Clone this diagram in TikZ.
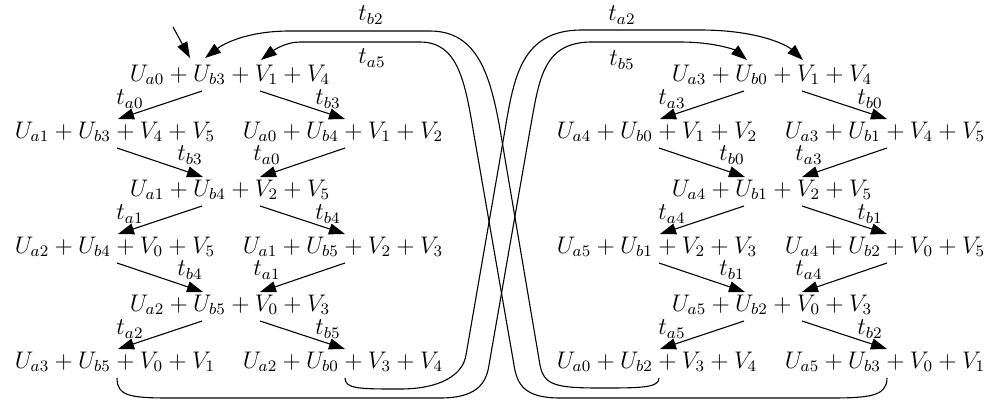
\documentclass[tikz,border=0pt]{standalone}
\usetikzlibrary{arrows.meta}
\begin{document}
\begin{tikzpicture}[x=0.5pt,y=-0.5pt,
  font=\fontsize{12}{14}\selectfont,
  st/.style={anchor=base, inner sep=0pt},
  lab/.style={inner sep=0pt},
  edge/.style={line width=0.55pt, -{Triangle[length=8pt,width=5.5pt]}},
]
\useasboundingbox (0,0) rectangle (998,403);
% ---------- left half ----------
\node[st] (l1)  at (230,81)  {$U_{a0}+U_{b3}+V_1+V_4$};
\node[st] (l2a) at (115,138) {$U_{a1}+U_{b3}+V_4+V_5$};
\node[st] (l2b) at (343,138) {$U_{a0}+U_{b4}+V_1+V_2$};
\node[st] (l3)  at (230,196) {$U_{a1}+U_{b4}+V_2+V_5$};
\node[st] (l4a) at (115,253) {$U_{a2}+U_{b4}+V_0+V_5$};
\node[st] (l4b) at (343,253) {$U_{a1}+U_{b5}+V_2+V_3$};
\node[st] (l5)  at (230,311) {$U_{a2}+U_{b5}+V_0+V_3$};
\node[st] (l6a) at (115,368) {$U_{a3}+U_{b5}+V_0+V_1$};
\node[st] (l6b) at (343,368) {$U_{a2}+U_{b0}+V_3+V_4$};
% ---------- right half ----------
\node[st] (r1)  at (772,81)  {$U_{a3}+U_{b0}+V_1+V_4$};
\node[st] (r2a) at (657,138) {$U_{a4}+U_{b0}+V_1+V_2$};
\node[st] (r2b) at (885,138) {$U_{a3}+U_{b1}+V_4+V_5$};
\node[st] (r3)  at (772,196) {$U_{a4}+U_{b1}+V_2+V_5$};
\node[st] (r4a) at (657,253) {$U_{a5}+U_{b1}+V_2+V_3$};
\node[st] (r4b) at (885,253) {$U_{a4}+U_{b2}+V_0+V_5$};
\node[st] (r5)  at (772,311) {$U_{a5}+U_{b2}+V_0+V_3$};
\node[st] (r6a) at (657,368) {$U_{a0}+U_{b2}+V_3+V_4$};
\node[st] (r6b) at (885,368) {$U_{a5}+U_{b3}+V_0+V_1$};
% ---------- tree edges ----------
\foreach \h in {l,r}{
  \draw[edge] ([shift={(-28,10)}]\h1.base) -- ([shift={(3,-19)}]\h2a.base);
  \draw[edge] ([shift={(30,10)}]\h1.base) -- ([shift={(2,-19)}]\h2b.base);
  \draw[edge] ([shift={(2,10)}]\h2a.base) -- ([shift={(-27,-19)}]\h3.base);
  \draw[edge] ([shift={(2,10)}]\h2b.base) -- ([shift={(30,-19)}]\h3.base);
  \draw[edge] ([shift={(-28,10)}]\h3.base) -- ([shift={(3,-19)}]\h4a.base);
  \draw[edge] ([shift={(30,10)}]\h3.base) -- ([shift={(2,-19)}]\h4b.base);
  \draw[edge] ([shift={(2,10)}]\h4a.base) -- ([shift={(-27,-19)}]\h5.base);
  \draw[edge] ([shift={(2,10)}]\h4b.base) -- ([shift={(30,-19)}]\h5.base);
  \draw[edge] ([shift={(-28,10)}]\h5.base) -- ([shift={(3,-19)}]\h6a.base);
  \draw[edge] ([shift={(30,10)}]\h5.base) -- ([shift={(2,-19)}]\h6b.base);
}
% ---------- tree edge labels ----------
\node[lab] (ll1)  at (130,99)  {$t_{a0}$};
\node[lab] (ll2)  at (328,99)  {$t_{b3}$};
\node[lab] (ll3)  at (190,155) {$t_{b3}$};
\node[lab] (ll4)  at (267,155) {$t_{a0}$};
\node[lab] (ll5)  at (130,214) {$t_{a1}$};
\node[lab] (ll6)  at (328,214) {$t_{b4}$};
\node[lab] (ll7)  at (190,270) {$t_{b4}$};
\node[lab] (ll8)  at (267,270) {$t_{a1}$};
\node[lab] (ll9)  at (130,329) {$t_{a2}$};
\node[lab] (ll10) at (328,329) {$t_{b5}$};
\node[lab] (rl1)  at (672,99)  {$t_{a3}$};
\node[lab] (rl2)  at (870,99)  {$t_{b0}$};
\node[lab] (rl3)  at (732,155) {$t_{b0}$};
\node[lab] (rl4)  at (809,155) {$t_{a3}$};
\node[lab] (rl5)  at (672,214) {$t_{a4}$};
\node[lab] (rl6)  at (870,214) {$t_{b1}$};
\node[lab] (rl7)  at (732,270) {$t_{b1}$};
\node[lab] (rl8)  at (809,270) {$t_{a4}$};
\node[lab] (rl9)  at (672,329) {$t_{a5}$};
\node[lab] (rl10) at (870,329) {$t_{b2}$};
% ---------- initial arrow ----------
\coordinate (init) at (173,27);
\draw[edge] (init) -- ([shift={(-40,-23)}]l1.base);
% ---------- long edges ----------
% t_b2 : r6a -> l1
\draw[edge] ([shift={(2,10)}]r6a.base)
  .. controls (659,388) and (640,388) .. (600,388)
  .. controls (555,388) and (544,385) .. (540,365)
  -- (501,135)
  .. controls (491,76) and (478,31) .. (430,31)
  -- (290,31)
  .. controls (245,31) and (222,45) .. ([shift={(-25,-23)}]l1.base);
% t_a5 : r6b -> l1
\draw[edge] ([shift={(2,10)}]r6b.base)
  .. controls (887,396) and (870,398) .. (830,398)
  -- (560,398)
  .. controls (525,398) and (517,385) .. (514,365)
  -- (474,135)
  .. controls (465,81) and (458,42) .. (420,42)
  -- (300,42)
  .. controls (286,42) and (274,50) .. ([shift={(31,-21)}]l1.base);
% t_a2 : l6b -> r1
\draw[edge] ([shift={(2,10)}]l6b.base)
  .. controls (345,389) and (360,389) .. (400,389)
  .. controls (440,389) and (463,375) .. (466,355)
  -- (505,130)
  .. controls (514,76) and (522,31) .. (580,30)
  -- (700,30)
  .. controls (760,30) and (788,46) .. ([shift={(31,-21)}]r1.base);
% t_b5 : l6a -> r1
\draw[edge] ([shift={(2,10)}]l6a.base)
  .. controls (117,396) and (130,398) .. (170,398)
  -- (440,398)
  .. controls (475,398) and (486,385) .. (489,365)
  -- (530,130)
  .. controls (539,81) and (542,43) .. (590,42)
  -- (680,42)
  .. controls (715,42) and (735,50) .. ([shift={(-25,-21)}]r1.base);
% ---------- long edge labels ----------
\node[lab] (lb2) at (371,15) {$t_{b2}$};
\node[lab] (la5) at (372,58) {$t_{a5}$};
\node[lab] (la2) at (622,15) {$t_{a2}$};
\node[lab] (lb5) at (622,60) {$t_{b5}$};
\end{tikzpicture}
\end{document}
